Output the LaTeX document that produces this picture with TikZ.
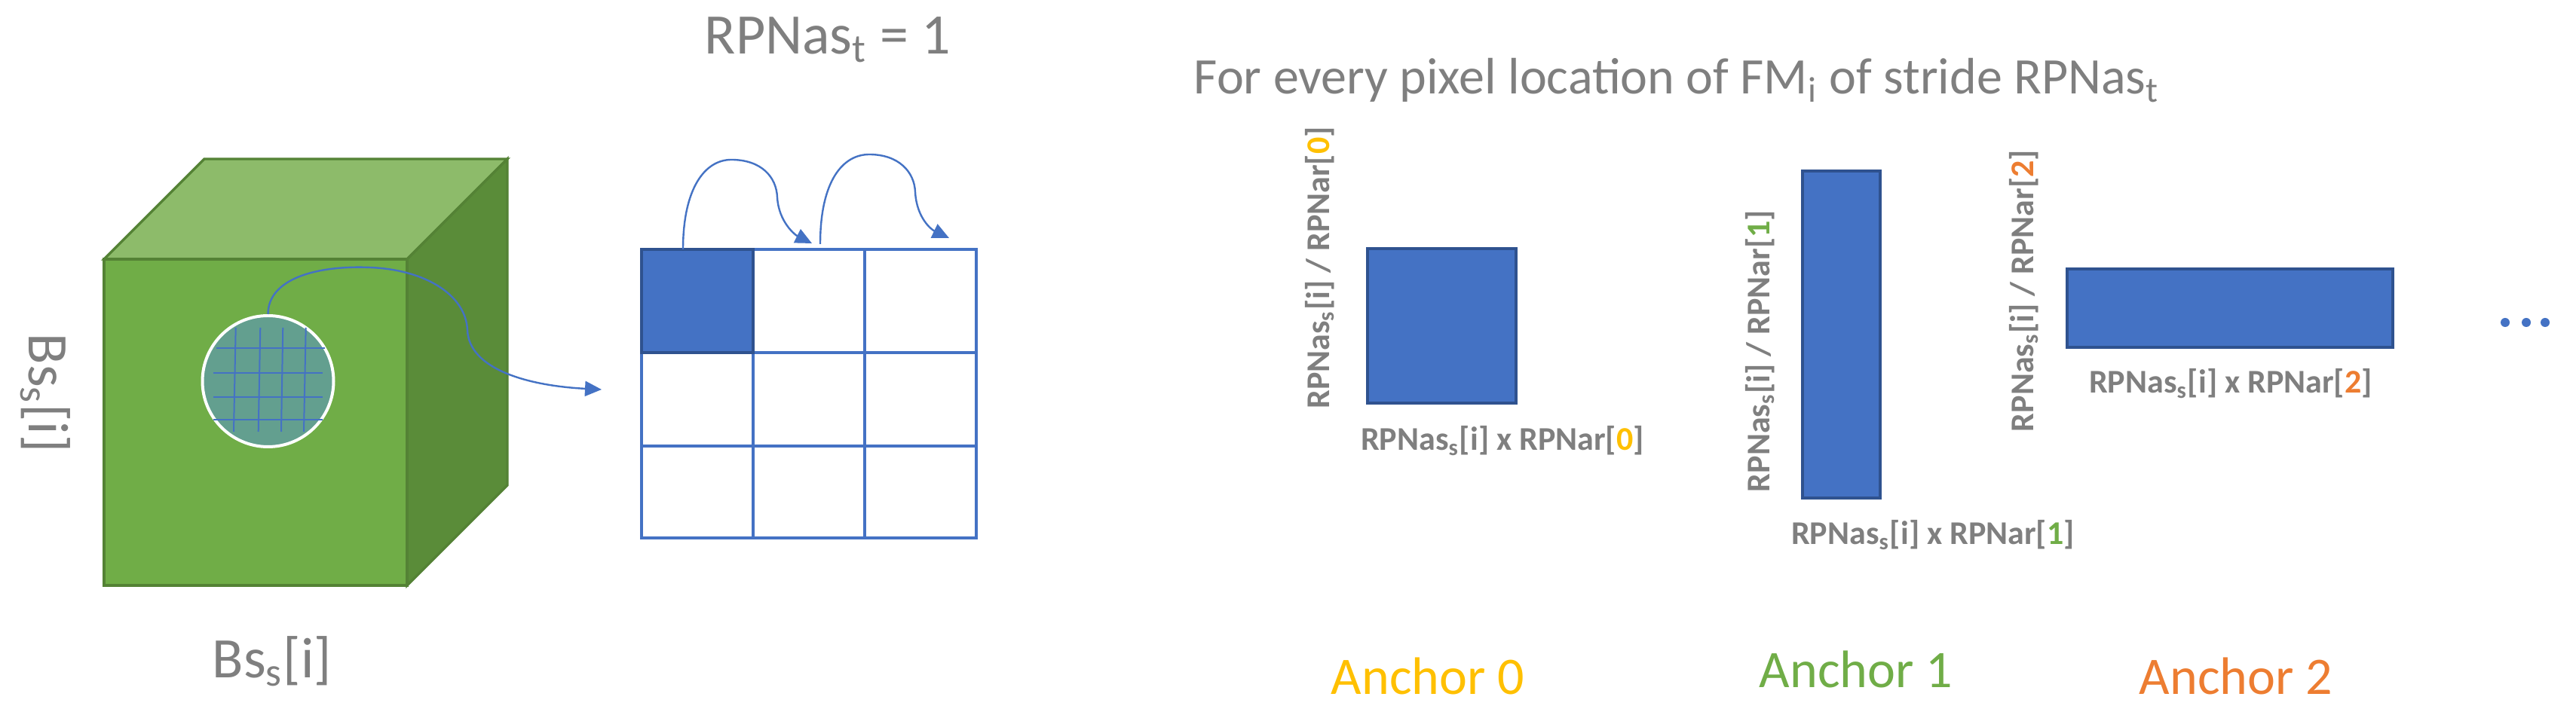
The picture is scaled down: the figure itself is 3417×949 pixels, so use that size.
\documentclass[tikz,border=0pt]{standalone}
\usepackage{fontspec}
\setmainfont{Carlito}
\usetikzlibrary{arrows.meta}
\definecolor{gfront}{HTML}{70AD47}
\definecolor{gtop}{HTML}{8DBB6A}
\definecolor{gside}{HTML}{5A8C39}
\definecolor{gline}{HTML}{548235}
\definecolor{teal}{HTML}{639F8F}
\definecolor{bl}{HTML}{4472C4}
\definecolor{dbl}{HTML}{2F528F}
\definecolor{txt}{HTML}{7F7F7F}
\definecolor{aZero}{HTML}{FFC000}
\definecolor{aOne}{HTML}{70AD47}
\definecolor{aTwo}{HTML}{ED7D31}
\tikzset{
  face/.style={draw=gline, line width=0.85pt, line join=miter},
  conn/.style={draw=bl, line width=0.6pt, -{Triangle[length=5.5pt,width=5pt]}},
  gridline/.style={draw=bl, line width=0.8pt},
  patchline/.style={draw=bl, line width=0.5pt},
  anchorbox/.style={rectangle, draw=dbl, fill=bl, line width=1pt, inner sep=0pt},
  bigtxt/.style={inner sep=0pt, text=txt, font=\fontsize{19pt}{22pt}\selectfont},
  midtxt/.style={inner sep=0pt, text=txt, font=\fontsize{17pt}{20pt}\selectfont},
  dimtxt/.style={inner sep=0pt, text=txt, font=\fontsize{11pt}{13pt}\selectfont\bfseries},
  anchortxt/.style={inner sep=0pt, font=\fontsize{17.5pt}{20pt}\selectfont},
  dotstyle/.style={circle, fill=bl, inner sep=0pt, minimum size=3pt},
}
\begin{document}
\begin{tikzpicture}[x=0.25pt, y=-0.25pt]
\useasboundingbox (0,0) rectangle (3417,949);
\fill[white] (0,0) rectangle (3417,949);

% ---- cube ----
\path[face, fill=gtop] (138,344) -- (271,211) -- (673,211) -- (540,344) -- cycle;
\path[face, fill=gside] (540,344) -- (673,211) -- (673,644) -- (540,777) -- cycle;
\path[face, fill=gfront] (138,344) -- (540,344) -- (540,777) -- (138,777) -- cycle;

% patch on the cube
\node[circle, draw=white, fill=teal, line width=1pt, inner sep=0pt,
      minimum size={174*0.25pt}] (patch) at (355.5,506) {};
\foreach \yy/\xa/\xb in {462/287/431, 495/283/428, 527/283/428, 557/283/428}
  \draw[patchline] (\xa,\yy) -- (\xb,\yy);
\foreach \xt/\xbt in {312.7/310, 345.3/342.7, 375.3/373, 405.7/403}
  \draw[patchline] (\xt,435) -- (\xbt,573);

% labels of the cube
\node[bigtxt, anchor=base west] (bsbottom) at (281,900) {Bs\textsubscript{s}[i]};
\node[bigtxt, anchor=base west, rotate=-90] (bsleft) at (38,442) {Bs\textsubscript{s}[i]};

% ---- feature-map grid ----
\node[rectangle, draw=dbl, fill=bl, line width=1pt, inner sep=0pt,
      minimum width={148*0.25pt}, minimum height={137*0.25pt}] (cell) at (925,399.5) {};
\draw[gridline] (851,331) rectangle (1295,714);
\draw[gridline] (999,331) -- (999,714);
\draw[gridline] (1147,331) -- (1147,714);
\draw[gridline] (851,468) -- (1295,468);
\draw[gridline] (851,592) -- (1295,592);
\node[rectangle, draw=dbl, fill=bl, line width=1pt, inner sep=0pt,
      minimum width={148*0.25pt}, minimum height={137*0.25pt}] at (925,399.5) {};

\node[bigtxt, anchor=base west] (stride) at (934,72) {RPNas\textsubscript{t} = 1};

% arrows
\coordinate (gridin) at (798,517);
\draw[conn] (patch.north) .. controls (355.5,370) and (420,352) .. (491,355)
  .. controls (565,358) and (618,392) .. (620,438)
  .. controls (622,490) and (700,512) .. (gridin);

\coordinate (s1) at (906,331);
\coordinate (e1) at (1077,323);
\coordinate (s2) at (1088,324);
\coordinate (e2) at (1259,316);
\draw[conn] (s1) .. controls (906,250) and (935,212) .. (970,212)
  .. controls (1010,212) and (1030,235) .. (1031,262)
  .. controls (1033,295) and (1055,312) .. (e1);
\draw[conn] (s2) .. controls (1088,240) and (1118,205) .. (1153,205)
  .. controls (1192,205) and (1213,228) .. (1214,255)
  .. controls (1216,290) and (1236,305) .. (e2);

% ---- anchors ----
\node[midtxt, anchor=base west] (title) at (1583,125)
  {For every pixel location of FM\textsubscript{i} of stride RPNas\textsubscript{t}};

\node[anchorbox, minimum width={197*0.25pt}, minimum height={205*0.25pt}] (box0) at (1912.5,432.5) {};
\node[anchorbox, minimum width={103*0.25pt}, minimum height={434*0.25pt}] (box1) at (2442.5,444) {};
\node[anchorbox, minimum width={432*0.25pt}, minimum height={104*0.25pt}] (box2) at (2958,409) {};

\node[dimtxt, anchor=base, rotate=90] (v0) at (1763,355.5) {RPNas\textsubscript{s}[i] / RPNar[\textcolor{aZero}{0}]};
\node[dimtxt, anchor=base, rotate=90] (v1) at (2347,466) {RPNas\textsubscript{s}[i] / RPNar[\textcolor{aOne}{1}]};
\node[dimtxt, anchor=base, rotate=90] (v2) at (2697,386) {RPNas\textsubscript{s}[i] / RPNar[\textcolor{aTwo}{2}]};

\node[dimtxt, anchor=base] (h0) at (1993,598) {RPNas\textsubscript{s}[i] x RPNar[\textcolor{aZero}{0}]};
\node[dimtxt, anchor=base] (h1) at (2564,723) {RPNas\textsubscript{s}[i] x RPNar[\textcolor{aOne}{1}]};
\node[dimtxt, anchor=base] (h2) at (2959,522) {RPNas\textsubscript{s}[i] x RPNar[\textcolor{aTwo}{2}]};

\node[anchortxt, text=aZero, anchor=base] (n0) at (1894,922) {Anchor 0};
\node[anchortxt, text=aOne, anchor=base] (n1) at (2462,913) {Anchor 1};
\node[anchortxt, text=aTwo, anchor=base] (n2) at (2966,922) {Anchor 2};

\node[dotstyle] (d1) at (3323,428) {};
\node[dotstyle] (d2) at (3351,428) {};
\node[dotstyle] (d3) at (3376,428) {};
\end{tikzpicture}
\end{document}
